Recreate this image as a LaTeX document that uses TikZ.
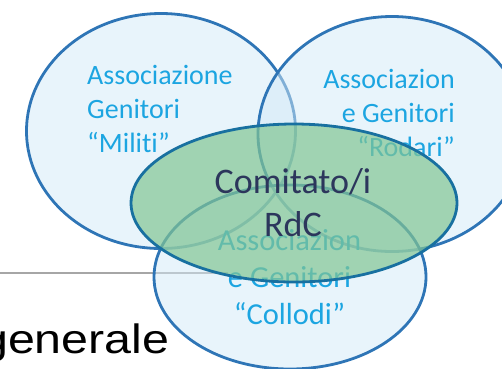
\documentclass[tikz,border=0pt]{standalone}
\usepackage{fontspec}
\setmainfont[Ligatures=NoCommon]{Carlito}
\newfontfamily\arialfont{Liberation Sans}
\usetikzlibrary{shapes.geometric}
\definecolor{assocline}{RGB}{46,117,182}
\definecolor{assocfill}{RGB}{210,233,247}
\definecolor{assoctext}{RGB}{28,165,225}
\definecolor{rdcfill}{RGB}{129,197,147}
\definecolor{rdcline}{RGB}{24,112,160}
\definecolor{rdctext}{RGB}{44,54,92}
\begin{document}
\begin{tikzpicture}[x=1pt, y=-1pt,
        assoc/.style={ellipse, draw=assocline, line width=2.8pt, fill=assocfill,
            fill opacity=0.5, inner sep=0pt},
        assoclabel/.style={text=assoctext, inner sep=0pt,
            font=\fontsize{28}{34}\selectfont}]
\useasboundingbox (0,0) rectangle (502,368);

\coordinate (rule west) at (0,273);
\coordinate (rule east) at (228,273);
\draw[black!35, line width=1.5pt] (rule west) -- (rule east);

\node[assoc, minimum width=269pt, minimum height=235pt] (militi) at (161,131) {};
\node[assoc, minimum width=268pt, minimum height=235pt] (rodari) at (392,134) {};
\node[assoc, minimum width=272pt, minimum height=184pt] (collodi) at (290,277) {};

% base = baseline of the last line
\node[assoclabel, anchor=base west, align=left] (militi label) at (87,152)
    {Associazione\\Genitori\\“Militi”};
\node[assoclabel, anchor=base east, align=right] (rodari label) at (455,156)
    {Associazion\\e Genitori\\“Rodari”};
\node[assoclabel, anchor=base, align=center, font=\fontsize{30.5}{37}\selectfont]
    (collodi label) at (289.5,324) {Associazion\\e Genitori\\“Collodi”};

\node[ellipse, draw=rdcline, line width=2.8pt, fill=rdcfill, fill opacity=0.7,
    inner sep=0pt, minimum width=326pt, minimum height=158pt] (rdc) at (294,203) {};
\node[text=rdctext, inner sep=0pt, align=center, anchor=base,
    font=\fontsize{36}{43}\selectfont] (rdc label) at (293,236) {Comitato/i\\RdC};

\node[anchor=base west, inner sep=0pt, font=\arialfont\fontsize{41}{48}\selectfont]
    (generale) at (-19,353) {\scalebox{1.18}[1]{generale}};
\end{tikzpicture}
\end{document}
